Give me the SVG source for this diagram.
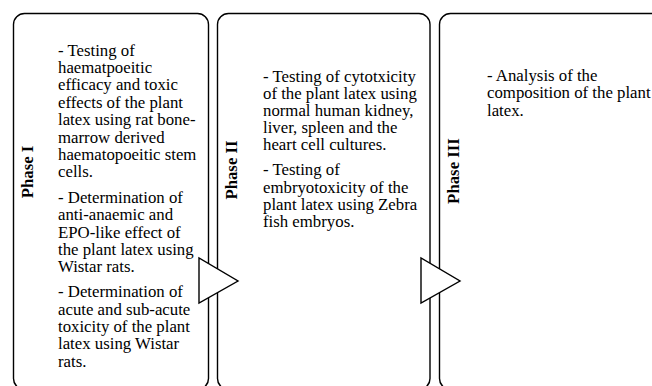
<svg xmlns="http://www.w3.org/2000/svg" width="652" height="386" viewBox="0 0 652 386">
<style>
.box{fill:#fff;stroke:#000;stroke-width:1.4}
.arr{fill:#fff;stroke:#000;stroke-width:1.4;stroke-linejoin:miter}
.t{font-family:"Liberation Serif","Times New Roman",serif;font-size:16.8px;fill:#000}
.ph{font-family:"Liberation Serif","Times New Roman",serif;font-size:16.8px;font-weight:bold;fill:#000;text-anchor:middle}
</style>
<rect width="652" height="386" fill="#fff"/>
<g id="phase1">
<rect class="box" x="13.5" y="13.5" width="195" height="376" rx="11"/>
<text class="ph" transform="translate(32.5,172) rotate(-90)">Phase I</text>
<text class="t" x="58">
<tspan x="58" y="55.5">- Testing of</tspan>
<tspan x="58" y="72.9">haematpoeitic</tspan>
<tspan x="58" y="90.3">efficacy and toxic</tspan>
<tspan x="58" y="107.7">effects of the plant</tspan>
<tspan x="58" y="125.1">latex using rat bone-</tspan>
<tspan x="58" y="142.5">marrow derived</tspan>
<tspan x="58" y="159.9">haematopoeitic stem</tspan>
<tspan x="58" y="177.3">cells.</tspan>
<tspan x="58" y="202.8">- Determination of</tspan>
<tspan x="58" y="220.2">anti-anaemic and</tspan>
<tspan x="58" y="237.6">EPO-like effect of</tspan>
<tspan x="58" y="255">the plant latex using</tspan>
<tspan x="58" y="272.4">Wistar rats.</tspan>
<tspan x="58" y="297.2">- Determination of</tspan>
<tspan x="58" y="314.6">acute and sub-acute</tspan>
<tspan x="58" y="332">toxicity  of the plant</tspan>
<tspan x="58" y="349.4">latex using Wistar</tspan>
<tspan x="58" y="366.8">rats.</tspan>
</text>
</g>
<g id="phase2">
<rect class="box" x="217.5" y="13.5" width="212.5" height="376" rx="11"/>
<text class="ph" transform="translate(236.5,170) rotate(-90)">Phase II</text>
<text class="t" x="263">
<tspan x="263" y="81.5">- Testing of cytotxicity</tspan>
<tspan x="263" y="98.7">of the plant latex using</tspan>
<tspan x="263" y="115.9">normal human kidney,</tspan>
<tspan x="263" y="133.1">liver,  spleen and the</tspan>
<tspan x="263" y="150.3">heart cell cultures.</tspan>
<tspan x="263" y="175.2">- Testing of</tspan>
<tspan x="263" y="192.5">embryotoxicity of the</tspan>
<tspan x="263" y="209.8">plant latex using Zebra</tspan>
<tspan x="263" y="227.1">fish embryos.</tspan>
</text>
</g>
<g id="phase3">
<rect class="box" x="439.5" y="13.5" width="240" height="376" rx="11"/>
<text class="ph" transform="translate(458.5,171) rotate(-90)">Phase III</text>
<text class="t" x="487">
<tspan x="487" y="81">- Analysis of the</tspan>
<tspan x="487" y="98.3">composition of the plant</tspan>
<tspan x="487" y="115.6">latex.</tspan>
</text>
</g>
<g id="connectors">
<polygon class="arr" points="199,258 199,303 238,281"/>
<polygon class="arr" points="421,258 421,303 460,281"/>
</g>
</svg>
